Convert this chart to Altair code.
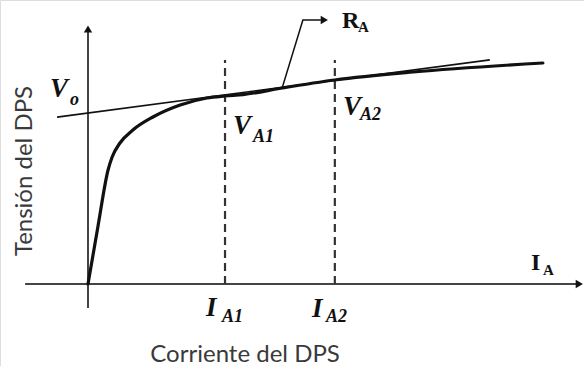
import altair as alt
import pandas as pd

# Characteristic curve of the DPS: current (I) vs voltage (V), arbitrary units
curve_i = [0.0, 0.29, 0.59, 0.71, 0.94, 1.32, 1.91, 2.71, 3.5, 4.03, 4.56, 5.71, 7.26, 9.56, 13.38]
curve_v = [0.0, 2.85, 5.7, 6.35, 7.05, 7.7, 8.35, 8.95, 9.3, 9.4, 9.47, 9.8, 10.2, 10.6, 11.05]

# Straight-line approximation V = Vo + RA * I
v_o = 8.55
r_a = 0.2247
tangent_i = [-0.91, 11.82]

# Operating currents
i_a1 = 4.03
i_a2 = 7.26
dash_top = 11.2

# Axis extents
x_axis = [-1.85, 14.45]
y_axis = [-1.2, 12.75]

# Leader for the RA label
leader_i = [5.71, 6.32, 6.85]
leader_v = [9.8, 13.2, 13.2]

X_DOMAIN = [-88 / 34, 496 / 34]
Y_DOMAIN = [-82 / 20, 284 / 20]

xs = alt.Scale(domain=X_DOMAIN, nice=False, zero=False)
ys = alt.Scale(domain=Y_DOMAIN, nice=False, zero=False)


def X(field="x"):
    return alt.X(f"{field}:Q", scale=xs, axis=None)


def Y(field="y"):
    return alt.Y(f"{field}:Q", scale=ys, axis=None)


AXIS_COLOR = "#444444"
INK = "#111111"

axes_df = pd.DataFrame([
    {"x": x_axis[0], "x2": x_axis[1], "y": 0.0, "y2": 0.0},
    {"x": 0.0, "x2": 0.0, "y": y_axis[0], "y2": y_axis[1]},
])
axes = alt.Chart(axes_df).mark_rule(color=AXIS_COLOR, strokeWidth=2).encode(
    x=X(), x2="x2:Q", y=Y(), y2="y2:Q"
)

heads_df = pd.DataFrame([
    {"x": x_axis[1], "y": 0.0, "shape": "triangle-right"},
    {"x": 0.0, "y": y_axis[1], "shape": "triangle-up"},
    {"x": leader_i[-1] + 0.1, "y": leader_v[-1], "shape": "triangle-right"},
])
heads = alt.Chart(heads_df).mark_point(filled=True, opacity=1, color=INK, size=70).encode(
    x=X(), y=Y(), shape=alt.Shape("shape:N", scale=None)
)

curve_df = pd.DataFrame({"x": curve_i, "y": curve_v, "o": range(len(curve_i))})
curve = alt.Chart(curve_df).mark_line(
    color=INK, strokeWidth=3.2, interpolate="monotone", strokeCap="round"
).encode(x=X(), y=Y(), order="o:Q")

tan_df = pd.DataFrame({"x": tangent_i, "y": [v_o + r_a * i for i in tangent_i]})
tangent = alt.Chart(tan_df).mark_line(color=INK, strokeWidth=1.6).encode(x=X(), y=Y())

dash_df = pd.DataFrame({"x": [i_a1, i_a2], "y": [0.0, 0.0], "y2": [dash_top, dash_top]})
dashes = alt.Chart(dash_df).mark_rule(
    color="#333333", strokeWidth=2.2, strokeDash=[8, 5]
).encode(x=X(), y=Y(), y2="y2:Q")

leader_df = pd.DataFrame({"x": leader_i, "y": leader_v, "o": [0, 1, 2]})
leader = alt.Chart(leader_df).mark_line(color=INK, strokeWidth=1.5).encode(
    x=X(), y=Y(), order="o:Q"
)

# Symbol labels: main letter and subscript anchored separately
main_it = pd.DataFrame([
    {"x": -1.118, "y": 9.35, "t": "V"},
    {"x": 4.265, "y": 7.5, "t": "V"},
    {"x": 7.5, "y": 8.45, "t": "V"},
    {"x": 3.47, "y": -1.6, "t": "I"},
    {"x": 6.59, "y": -1.65, "t": "I"},
])
sub_it = pd.DataFrame([
    {"x": -0.53, "y": 8.95, "t": "o"},
    {"x": 4.85, "y": 7.1, "t": "A1"},
    {"x": 8.0, "y": 8.2, "t": "A2"},
    {"x": 3.94, "y": -1.9, "t": "A1"},
    {"x": 7.0, "y": -1.9, "t": "A2"},
])
main_up = pd.DataFrame([
    {"x": 13.03, "y": 0.7, "t": "I"},
    {"x": 7.47, "y": 12.8, "t": "R"},
])
sub_up = pd.DataFrame([
    {"x": 13.38, "y": 0.45, "t": "A"},
    {"x": 7.94, "y": 12.6, "t": "A"},
])


def text_layer(df, size, italic):
    return alt.Chart(df).mark_text(
        font="Liberation Serif", fontWeight="bold",
        fontStyle="italic" if italic else "normal",
        fontSize=size, align="left", baseline="alphabetic", color=INK,
    ).encode(x=X(), y=Y(), text="t:N")


labels = [
    text_layer(main_it, 27, True),
    text_layer(sub_it, 18, True),
    text_layer(main_up, 24, False),
    text_layer(sub_up, 15, False),
]

TITLE_COLOR = "#3a3a3a"
xtitle = alt.Chart(pd.DataFrame([{"x": 4.62, "y": -3.9, "t": "Corriente del DPS"}])).mark_text(
    font="Lato", fontSize=24, color=TITLE_COLOR, align="center", baseline="alphabetic"
).encode(x=X(), y=Y(), text="t:N")
ytitle = alt.Chart(pd.DataFrame([{"x": -1.85, "y": 5.65, "t": "Tensión del DPS"}])).mark_text(
    font="Lato", fontSize=24, color=TITLE_COLOR, align="center", baseline="middle", angle=270
).encode(x=X(), y=Y(), text="t:N")

chart = alt.layer(
    axes, dashes, tangent, curve, leader, heads, *labels, xtitle, ytitle
).properties(
    width=584, height=366, padding=0, autosize=alt.AutoSizeParams(type="none")
).configure_view(stroke=None).configure(background="white")

chart.save("out.html", embed_options={"renderer": "svg", "actions": False})
